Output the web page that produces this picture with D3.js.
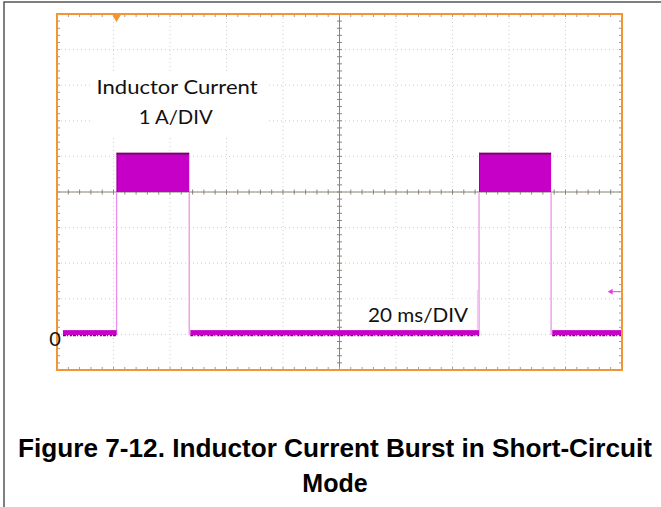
<!DOCTYPE html>
<html>
<head>
<meta charset="utf-8">
<script src="https://cdn.jsdelivr.net/npm/d3@7"></script>
<style>
  body { margin: 0; background: #fff; }
  svg { display: block; }
</style>
</head>
<body>
<svg id="scope" width="661" height="507"></svg>
<script>
// time axis: 20 ms/DIV, 10 divisions
const timeDomain = [0, 200];
const timeGrid = d3.range(0, 201, 20);
// current axis: 1 A/DIV, zero sits one division above the bottom
const currentDomain = [-1, 9];
const currentGrid = d3.range(-1, 10, 1);

// bursts (ms, A)
const burstStart = [21.1, 149.4];
const burstEnd = [46.8, 174.9];
const burstLow = [4.0, 4.0];
const burstHigh = [5.1, 5.1];

// idle trace at zero between bursts (ms)
const idleStart = [2.1, 47.2, 175.3];
const idleEnd = [21.1, 149.4, 200];
const idleBand = [-0.02, 0.12];

const triggerTime = 21.1;
const markerLevel = 1.2;

const labels = [
    { text: "Inductor Current", t: 42.5, a: 6.75, w: 161 },
    { text: "1 A/DIV", t: 42.0, a: 5.9, w: 74 },
    { text: "20 ms/DIV", t: 127.8, a: 0.35, w: 100 },
];
const captionLines = ["Figure 7-12. Inductor Current Burst in Short-Circuit", "Mode"];

const orange = "#f29633";
const gridColor = "#cfcfcf";
const axisColor = "#8c8478";
const traceColor = "#c600c6";
const edgeColor = "#6a0a5a";
const stepColor = "#ea8aea";

const svg = d3.select("#scope");

// page frame
svg.append("path")
    .attr("d", "M4,507 L4,2 L661,2")
    .attr("fill", "none")
    .attr("stroke", "#555")
    .attr("stroke-width", 1.5);

const x = d3.scaleLinear().domain(timeDomain).range([57, 622]);
const y = d3.scaleLinear().domain(currentDomain).range([370, 14]);

const grid = svg.append("g");

// dotted division lines
grid.selectAll(".vgrid")
    .data(timeGrid.slice(1, -1))
    .enter().append("line")
    .attr("x1", d => x(d)).attr("x2", d => x(d))
    .attr("y1", y(9)).attr("y2", y(-1))
    .attr("stroke", gridColor)
    .attr("stroke-dasharray", "1,3");

grid.selectAll(".hgrid")
    .data(currentGrid.slice(1, -1))
    .enter().append("line")
    .attr("x1", x(0)).attr("x2", x(200))
    .attr("y1", d => y(d)).attr("y2", d => y(d))
    .attr("stroke", gridColor)
    .attr("stroke-dasharray", "1,3");

// minor ticks, 5 per division
const minorT = d3.range(0, 200.01, 4);
const minorA = d3.range(-1, 9.01, 0.2);

// centre crosshair
grid.append("line")
    .attr("x1", x(0)).attr("x2", x(200))
    .attr("y1", y(4)).attr("y2", y(4))
    .attr("stroke", axisColor);
grid.append("line")
    .attr("x1", x(100)).attr("x2", x(100))
    .attr("y1", y(9)).attr("y2", y(-1))
    .attr("stroke", axisColor);

grid.selectAll(".ctickx")
    .data(minorT)
    .enter().append("line")
    .attr("x1", d => x(d)).attr("x2", d => x(d))
    .attr("y1", y(4) - 2.5).attr("y2", y(4) + 2.5)
    .attr("stroke", axisColor);
grid.selectAll(".cticky")
    .data(minorA)
    .enter().append("line")
    .attr("x1", x(100) - 2.5).attr("x2", x(100) + 2.5)
    .attr("y1", d => y(d)).attr("y2", d => y(d))
    .attr("stroke", axisColor);

// edge ticks
const edgeTicks = [
    { data: minorT, x1: d => x(d), x2: d => x(d), y1: () => y(9), y2: () => y(9) + 3 },
    { data: minorT, x1: d => x(d), x2: d => x(d), y1: () => y(-1), y2: () => y(-1) - 3 },
    { data: minorA, x1: () => x(0), x2: () => x(0) + 3, y1: d => y(d), y2: d => y(d) },
    { data: minorA, x1: () => x(200), x2: () => x(200) - 3, y1: d => y(d), y2: d => y(d) },
];
edgeTicks.forEach(e => {
    grid.append("g").selectAll("line")
        .data(e.data)
        .enter().append("line")
        .attr("x1", e.x1).attr("x2", e.x2)
        .attr("y1", e.y1).attr("y2", e.y2)
        .attr("stroke", "#a09a90");
});

// label boxes hide the grid behind the text
const labelLayer = svg.append("g")
    .attr("font-family", "Lato, 'Open Sans', sans-serif")
    .attr("font-size", 20)
    .attr("fill", "#111");

labelLayer.append("rect")
    .attr("x", x(12)).attr("y", y(7.35))
    .attr("width", x(75) - x(12)).attr("height", y(5.55) - y(7.35))
    .attr("fill", "#fff");
labelLayer.append("rect")
    .attr("x", x(108.2)).attr("y", y(1.0))
    .attr("width", x(148.8) - x(108.2)).attr("height", y(0.14) - y(1.0))
    .attr("fill", "#fff");
labelLayer.append("line")
    .attr("x1", x(148.8)).attr("x2", x(148.8))
    .attr("y1", y(1.25)).attr("y2", y(0.14))
    .attr("stroke", "#d8d8d8");

labelLayer.selectAll("text")
    .data(labels)
    .enter().append("text")
    .attr("x", d => x(d.t))
    .attr("y", d => y(d.a))
    .attr("text-anchor", "middle")
    .attr("textLength", d => d.w)
    .attr("lengthAdjust", "spacingAndGlyphs")
    .text(d => d.text);

// trace
const trace = svg.append("g");

trace.selectAll(".step")
    .data(burstStart.concat(burstEnd))
    .enter().append("line")
    .attr("x1", d => x(d)).attr("x2", d => x(d))
    .attr("y1", y(idleBand[0])).attr("y2", y(4.0))
    .attr("stroke", stepColor)
    .attr("stroke-width", 1.2);

trace.selectAll(".idle")
    .data(idleStart)
    .enter().append("rect")
    .attr("x", d => x(d))
    .attr("y", y(idleBand[1]))
    .attr("width", (d, i) => x(idleEnd[i]) - x(d))
    .attr("height", y(idleBand[0]) - y(idleBand[1]))
    .attr("fill", traceColor);

trace.selectAll(".idleEdge")
    .data(idleStart)
    .enter().append("line")
    .attr("x1", d => x(d)).attr("x2", (d, i) => x(idleEnd[i]))
    .attr("y1", y(idleBand[0]) + 0.5).attr("y2", y(idleBand[0]) + 0.5)
    .attr("stroke", edgeColor)
    .attr("stroke-width", 1.3)
    .attr("stroke-dasharray", "3,1,1,2,2,1");

trace.selectAll(".burst")
    .data(burstStart)
    .enter().append("rect")
    .attr("x", d => x(d))
    .attr("y", (d, i) => y(burstHigh[i]))
    .attr("width", (d, i) => x(burstEnd[i]) - x(d))
    .attr("height", (d, i) => y(burstLow[i]) - y(burstHigh[i]))
    .attr("fill", traceColor);

trace.selectAll(".burstTop")
    .data(burstStart)
    .enter().append("line")
    .attr("x1", d => x(d)).attr("x2", (d, i) => x(burstEnd[i]))
    .attr("y1", (d, i) => y(burstHigh[i]) + 0.8).attr("y2", (d, i) => y(burstHigh[i]) + 0.8)
    .attr("stroke", edgeColor)
    .attr("stroke-width", 1.6);

trace.selectAll(".burstLeft")
    .data(burstStart)
    .enter().append("line")
    .attr("x1", d => x(d) + 0.5).attr("x2", d => x(d) + 0.5)
    .attr("y1", (d, i) => y(burstHigh[i])).attr("y2", (d, i) => y(burstLow[i]))
    .attr("stroke", "#8a0a8a")
    .attr("stroke-width", 1);

// frame
svg.append("rect")
    .attr("x", x(0)).attr("y", y(9))
    .attr("width", x(200) - x(0)).attr("height", y(-1) - y(9))
    .attr("fill", "none")
    .attr("stroke", orange)
    .attr("stroke-width", 2);

// trigger marker at top
svg.append("path")
    .attr("d", d3.symbol(d3.symbolTriangle, 36))
    .attr("transform", `translate(${x(triggerTime)},${y(9) + 3}) rotate(180)`)
    .attr("fill", orange);

// level marker on the right
svg.append("line")
    .attr("x1", x(200) - 10).attr("x2", x(200) - 2)
    .attr("y1", y(markerLevel)).attr("y2", y(markerLevel))
    .attr("stroke", "#e040e0")
    .attr("stroke-width", 1);
svg.append("path")
    .attr("d", d3.symbol(d3.symbolTriangle, 14))
    .attr("transform", `translate(${x(200) - 11},${y(markerLevel)}) rotate(-90)`)
    .attr("fill", "#e040e0");

// zero label
svg.append("text")
    .attr("x", x(0) - 2)
    .attr("y", y(0) + 12)
    .attr("text-anchor", "middle")
    .attr("font-family", "Lato, 'Open Sans', sans-serif")
    .attr("font-size", 20)
    .attr("fill", "#111")
    .text("0");

// caption
svg.append("g")
    .attr("font-family", "'Liberation Sans', Arial, sans-serif")
    .attr("font-weight", "bold")
    .attr("font-size", 25)
    .attr("fill", "#000")
    .selectAll("text")
    .data(captionLines)
    .enter().append("text")
    .attr("x", 335)
    .attr("y", (d, i) => 457 + i * 35)
    .attr("text-anchor", "middle")
    .attr("textLength", (d, i) => i === 0 ? 634 : null)
    .attr("lengthAdjust", "spacingAndGlyphs")
    .text(d => d);
</script>
</body>
</html>
